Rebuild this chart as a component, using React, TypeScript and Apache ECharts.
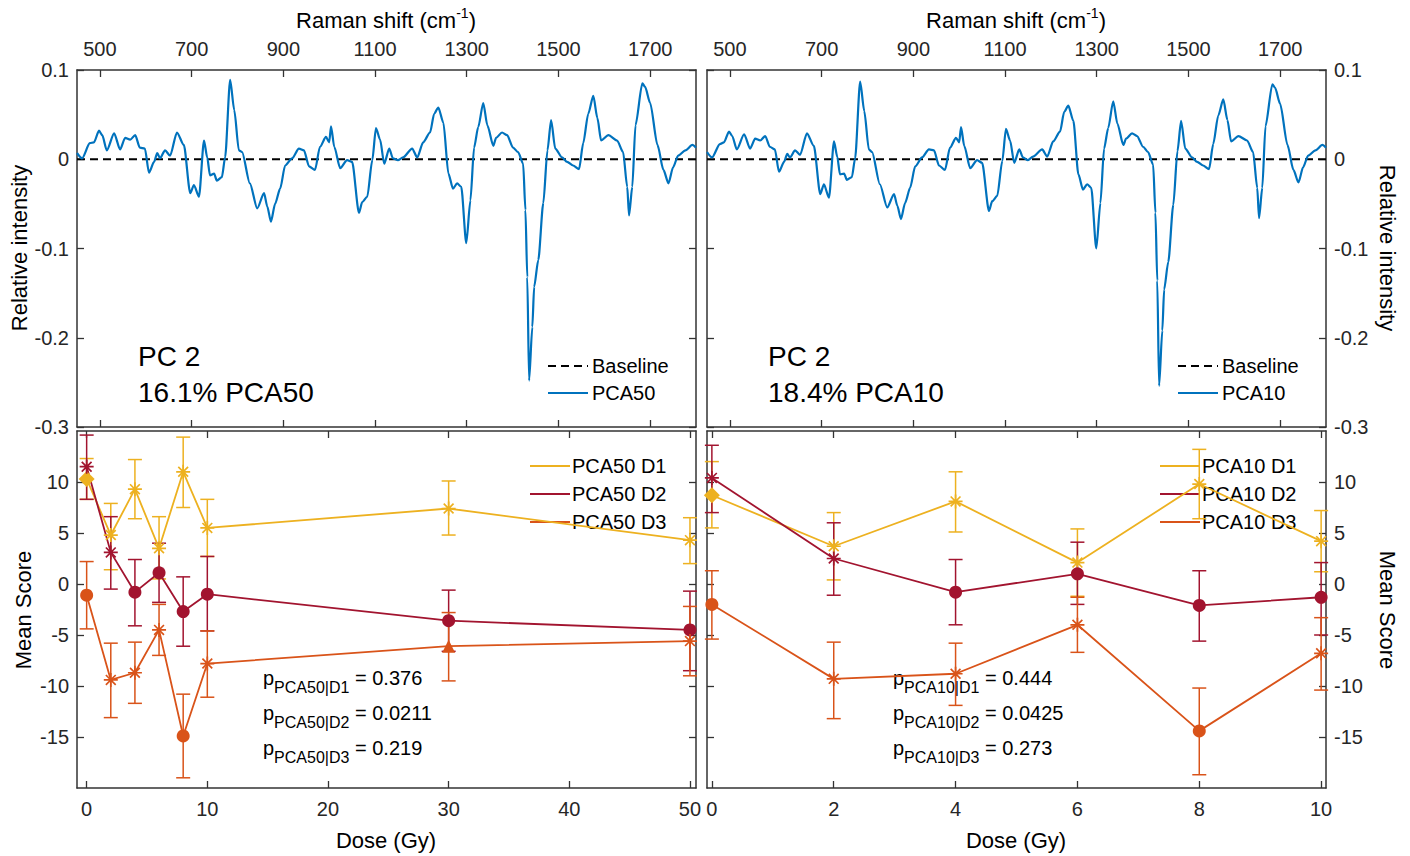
import React, { useEffect, useRef } from 'react';
import * as echarts from 'echarts';

const FONT = "'Liberation Sans', Arial, Helvetica, sans-serif";
const AX = '#333333';
const TXT = '#262626';
const BLUE = '#0072BD';
const C_D1 = '#EDB120';
const C_D2 = '#A2142F';
const C_D3 = '#D95319';

// ---------- tick labels ----------
const ramanTicks = [500, 700, 900, 1100, 1300, 1500, 1700];
const intensityTicks = [-0.3, -0.2, -0.1, 0, 0.1];
const doseTicks50 = [0, 10, 20, 30, 40, 50];
const doseTicks10 = [0, 2, 4, 6, 8, 10];
const scoreTicks = [-15, -10, -5, 0, 5, 10];

// ---------- spectra (PC 2 loadings) ----------
const waveNumbers = [
  450, 461, 478, 487, 498, 505, 515, 531, 544, 555, 566, 577, 587, 598, 607, 618, 625, 631, 642, 653,
  668, 683, 697, 705, 716, 727, 734, 740, 749, 755, 766, 773, 784, 793, 803, 810, 827, 843, 858, 865,
  873, 882, 893, 904, 919, 934, 945, 956, 969, 980, 993, 1000, 1004, 1011, 1024, 1039, 1050, 1065, 1072, 1083,
  1094, 1102, 1111, 1120, 1131, 1139, 1150, 1161, 1181, 1192, 1205, 1220, 1229, 1238, 1249, 1260, 1270, 1279, 1288, 1299,
  1308, 1316, 1325, 1336, 1345, 1358, 1364, 1377, 1388, 1401, 1412, 1423, 1428, 1432, 1436, 1443, 1447, 1456, 1467, 1476,
  1484, 1493, 1508, 1519, 1532, 1545, 1554, 1565, 1576, 1585, 1593, 1609, 1628, 1641, 1650, 1654, 1661, 1668, 1683, 1689,
  1700, 1716, 1729, 1740, 1750, 1761, 1777, 1792, 1800,
];
const intensityPCA50 = [
  0.007, 0.001, 0.018, 0.019, 0.032, 0.027, 0.010, 0.029, 0.011, 0.024, 0.022, 0.027, 0.013, 0.012, -0.015, -0.003, 0.007, 0.001, 0.010, 0.004,
  0.030, 0.016, -0.038, -0.029, -0.042, 0.021, 0.002, -0.018, -0.016, -0.024, -0.020, 0.002, 0.089, 0.055, 0.010, 0.008, -0.027, -0.055, -0.038, -0.053,
  -0.070, -0.050, -0.033, -0.007, 0.001, 0.012, 0.010, -0.008, -0.012, 0.014, 0.025, 0.019, 0.037, 0.014, -0.010, -0.001, -0.003, -0.060, -0.048, -0.042,
  -0.001, 0.035, 0.022, -0.005, 0.012, 0.001, -0.001, 0.002, 0.012, 0.002, 0.019, 0.030, 0.051, 0.058, 0.041, -0.016, -0.033, -0.027, -0.031, -0.094,
  -0.046, 0.013, 0.036, 0.063, 0.038, 0.015, 0.024, 0.030, 0.027, 0.013, 0.008, -0.005, -0.057, -0.132, -0.248, -0.188, -0.143, -0.113, -0.049, 0.010,
  0.044, 0.012, 0.002, -0.003, -0.007, -0.011, 0.018, 0.051, 0.071, 0.046, 0.021, 0.027, 0.021, 0.008, -0.031, -0.063, -0.031, 0.038, 0.085, 0.081,
  0.063, 0.016, -0.012, -0.027, -0.009, 0.004, 0.010, 0.016, 0.013,
];
const intensityPCA10 = [
  0.008, 0.002, 0.017, 0.019, 0.031, 0.026, 0.011, 0.028, 0.012, 0.023, 0.021, 0.026, 0.014, 0.011, -0.014, -0.003, 0.006, 0.002, 0.010, 0.005,
  0.029, 0.015, -0.039, -0.028, -0.043, 0.020, 0.003, -0.017, -0.016, -0.023, -0.020, 0.001, 0.087, 0.054, 0.011, 0.008, -0.028, -0.054, -0.039, -0.052,
  -0.067, -0.049, -0.032, -0.008, 0.002, 0.011, 0.010, -0.007, -0.012, 0.013, 0.024, 0.019, 0.036, 0.015, -0.010, -0.001, -0.004, -0.058, -0.047, -0.041,
  -0.002, 0.034, 0.021, -0.004, 0.011, 0.002, -0.001, 0.003, 0.011, 0.003, 0.020, 0.031, 0.053, 0.060, 0.043, -0.017, -0.034, -0.028, -0.032, -0.100,
  -0.049, 0.012, 0.035, 0.065, 0.040, 0.016, 0.023, 0.029, 0.026, 0.014, 0.008, -0.006, -0.060, -0.136, -0.254, -0.192, -0.146, -0.115, -0.051, 0.009,
  0.043, 0.012, 0.002, -0.003, -0.007, -0.011, 0.017, 0.049, 0.067, 0.044, 0.020, 0.026, 0.021, 0.008, -0.032, -0.066, -0.032, 0.037, 0.084, 0.080,
  0.062, 0.016, -0.012, -0.026, -0.009, 0.004, 0.010, 0.016, 0.013,
];
const baselineWave = [450, 1800];
const baselineIntensity = [0, 0];

// ---------- mean scores (PCA50) ----------
const dose50 = [0, 2, 4, 6, 8, 10, 30, 50];
const pca50D1 = [10.3, 4.8, 9.3, 3.5, 11.0, 5.5, 7.4, 4.3];
const pca50D1Lo = [8.3, 1.4, 6.4, 0.5, 7.5, 2.7, 4.8, 2.0];
const pca50D1Hi = [12.3, 7.9, 12.2, 6.6, 14.4, 8.3, 10.1, 6.5];
const pca50D1Mk = ['diamond', 'asterisk', 'asterisk', 'asterisk', 'asterisk', 'asterisk', 'asterisk', 'asterisk'];
const pca50D2 = [11.5, 3.1, -0.8, 1.1, -2.7, -1.0, -3.6, -4.5];
const pca50D2Lo = [8.3, -0.5, -4.1, -1.8, -6.1, -4.6, -6.6, -8.5];
const pca50D2Hi = [14.6, 6.6, 2.4, 4.0, 0.7, 2.7, -0.6, -0.7];
const pca50D2Mk = ['asterisk', 'asterisk', 'circle', 'circle', 'circle', 'circle', 'circle', 'circle'];
const pca50D3 = [-1.1, -9.4, -8.7, -4.5, -14.9, -7.8, -6.1, -5.6];
const pca50D3Lo = [-4.4, -13.1, -11.7, -7.0, -19.0, -11.1, -9.5, -9.0];
const pca50D3Hi = [2.2, -5.8, -5.7, -2.0, -10.8, -4.6, -2.8, -2.2];
const pca50D3Mk = ['circle', 'asterisk', 'asterisk', 'asterisk', 'circle', 'asterisk', 'triangle', 'asterisk'];

// ---------- mean scores (PCA10) ----------
const dose10 = [0, 2, 4, 6, 8, 10];
const pca10D1 = [8.7, 3.7, 8.1, 2.1, 9.8, 4.2];
const pca10D1Lo = [5.5, 0.4, 5.1, -1.2, 6.4, 1.2];
const pca10D1Hi = [12.0, 7.0, 11.0, 5.4, 13.2, 7.2];
const pca10D1Mk = ['diamond', 'asterisk', 'asterisk', 'asterisk', 'asterisk', 'asterisk'];
const pca10D2 = [10.4, 2.5, -0.8, 1.0, -2.1, -1.3];
const pca10D2Lo = [7.0, -1.1, -4.0, -2.0, -5.6, -5.0];
const pca10D2Hi = [13.6, 6.0, 2.4, 4.1, 1.3, 2.1];
const pca10D2Mk = ['asterisk', 'asterisk', 'circle', 'circle', 'circle', 'circle'];
const pca10D3 = [-2.0, -9.3, -8.8, -4.0, -14.4, -6.8];
const pca10D3Lo = [-5.4, -13.2, -11.9, -6.7, -18.7, -10.4];
const pca10D3Hi = [1.3, -5.7, -5.8, -1.3, -10.2, -3.3];
const pca10D3Mk = ['circle', 'asterisk', 'asterisk', 'asterisk', 'circle', 'asterisk'];

const pLabels50 = ['PCA50|D1', 'PCA50|D2', 'PCA50|D3'];
const pValues50 = ['0.376', '0.0211', '0.219'];
const pLabels10 = ['PCA10|D1', 'PCA10|D2', 'PCA10|D3'];
const pValues10 = ['0.444', '0.0425', '0.273'];

const ASTERISK =
  'path://M8.8,0L11.2,0L11.2,20L8.8,20Z M0,8.8L20,8.8L20,11.2L0,11.2Z ' +
  'M2.15,3.85L3.85,2.15L17.85,16.15L16.15,17.85Z M16.15,2.15L17.85,3.85L3.85,17.85L2.15,16.15Z';

function symbolOf(name: string): [string, number] {
  if (name === 'asterisk') return [ASTERISK, 14];
  if (name === 'diamond') return ['diamond', 16];
  if (name === 'triangle') return ['triangle', 13];
  return ['circle', 13];
}

const plain = (v: number) => String(v);

function xAxis(gridIndex: number, position: string, min: number, max: number, ticks: number[], labels: boolean) {
  return {
    type: 'value', gridIndex, position, min, max,
    axisLine: { show: true, onZero: false, lineStyle: { color: AX, width: 1.5 } },
    axisTick: { show: true, inside: true, length: 7, customValues: ticks, lineStyle: { color: AX, width: 1.3 } },
    axisLabel: { show: labels, customValues: ticks, formatter: plain, margin: 11, color: TXT, fontSize: 20, fontFamily: FONT },
    splitLine: { show: false },
  };
}
function yAxis(gridIndex: number, position: string, min: number, max: number, ticks: number[], labels: boolean) {
  return {
    type: 'value', gridIndex, position, min, max,
    axisLine: { show: true, onZero: false, lineStyle: { color: AX, width: 1.5 } },
    axisTick: { show: true, inside: true, length: 7, customValues: ticks, lineStyle: { color: AX, width: 1.3 } },
    axisLabel: { show: labels, customValues: ticks, formatter: plain, margin: 8, color: TXT, fontSize: 20, fontFamily: FONT },
    splitLine: { show: false },
  };
}

function spectrum(xi: number, values: number[], name: string) {
  return {
    name, type: 'line', xAxisIndex: xi, yAxisIndex: xi,
    data: waveNumbers.map((w, i) => [w, values[i]]),
    showSymbol: false, symbol: 'none', smooth: 0.25, smoothMonotone: 'x',
    lineStyle: { color: BLUE, width: 2.2 }, z: 3,
  };
}
function baseline(xi: number) {
  return {
    name: 'Baseline', type: 'line', xAxisIndex: xi, yAxisIndex: xi,
    data: baselineWave.map((w, i) => [w, baselineIntensity[i]]),
    symbol: 'none', lineStyle: { color: '#000', width: 2, type: [8, 5] }, z: 2,
  };
}
function errBars(xi: number, doses: number[], lo: number[], hi: number[], color: string) {
  return {
    type: 'custom', xAxisIndex: xi, yAxisIndex: xi, silent: true, z: 2,
    data: doses.map((d, i) => [d, lo[i], hi[i]]),
    encode: { x: 0, y: [1, 2] },
    renderItem: (_p: any, api: any) => {
      const x = api.value(0);
      const a = api.coord([x, api.value(1)]);
      const b = api.coord([x, api.value(2)]);
      const w = 7;
      const st = { stroke: color, lineWidth: 1.5 };
      return {
        type: 'group',
        children: [
          { type: 'line', shape: { x1: a[0], y1: a[1], x2: b[0], y2: b[1] }, style: st },
          { type: 'line', shape: { x1: a[0] - w, y1: a[1], x2: a[0] + w, y2: a[1] }, style: st },
          { type: 'line', shape: { x1: b[0] - w, y1: b[1], x2: b[0] + w, y2: b[1] }, style: st },
        ],
      };
    },
  };
}
function scoreLine(xi: number, doses: number[], vals: number[], marks: string[], color: string, name: string) {
  return {
    name, type: 'line', xAxisIndex: xi, yAxisIndex: xi, z: 3,
    data: doses.map((d, i) => {
      const [s, sz] = symbolOf(marks[i]);
      return { value: [d, vals[i]], symbol: s, symbolSize: sz };
    }),
    showSymbol: true,
    lineStyle: { color, width: 1.8 },
    itemStyle: { color },
  };
}

function txt(x: number, y: number, text: string, size: number) {
  return {
    type: 'text', x, y,
    style: { text, fontSize: size, fontFamily: FONT, fill: '#000', align: 'left', verticalAlign: 'middle' },
  };
}
function richTitle(x: number, y: number) {
  return {
    type: 'text', x, y,
    style: {
      text: '{a|Raman shift (cm}{s|-1}{a|)}',
      align: 'center', verticalAlign: 'middle',
      rich: {
        a: { fontSize: 22, lineHeight: 28, fontFamily: FONT, fill: '#000' },
        s: { fontSize: 14, lineHeight: 14, fontFamily: FONT, fill: '#000', verticalAlign: 'top' },
      },
    },
  };
}
function centered(x: number, y: number, text: string, rotation = 0) {
  return {
    type: 'text', x, y, rotation,
    style: { text, fontSize: 22, fontFamily: FONT, fill: '#000', align: 'center', verticalAlign: 'middle' },
  };
}
function pText(x: number, y: number, label: string, val: string) {
  return {
    type: 'text', x, y,
    style: {
      text: `{p|p}{s|${label}}{n| = ${val}}`,
      align: 'left', verticalAlign: 'middle',
      rich: {
        p: { fontSize: 20, lineHeight: 34, fontFamily: FONT, fill: '#000' },
        s: { fontSize: 16, lineHeight: 16, fontFamily: FONT, fill: '#000', verticalAlign: 'bottom' },
        n: { fontSize: 20, lineHeight: 34, fontFamily: FONT, fill: '#000' },
      },
    },
  };
}
function legLine(x: number, y: number, color: string, dash?: number[]) {
  return {
    type: 'line', shape: { x1: x, y1: y, x2: x + 40, y2: y },
    style: { stroke: color, lineWidth: 2, lineDash: dash || null },
  };
}

function buildOption() {
  const G = [
    { left: 77, top: 70, width: 619, height: 357 },
    { left: 707, top: 70, width: 619, height: 357 },
    { left: 77, top: 431, width: 619, height: 357 },
    { left: 707, top: 431, width: 619, height: 357 },
  ];
  const grids = G.map((g) => ({ ...g, containLabel: false, outerBoundsMode: 'none', show: false }));

  const xAxes = [
    xAxis(0, 'top', 450, 1800, ramanTicks, true),
    xAxis(1, 'top', 450, 1800, ramanTicks, true),
    xAxis(2, 'bottom', -0.8, 50.5, doseTicks50, true),
    xAxis(3, 'bottom', -0.08, 10.08, doseTicks10, true),
    xAxis(0, 'bottom', 450, 1800, ramanTicks, false),
    xAxis(1, 'bottom', 450, 1800, ramanTicks, false),
    xAxis(2, 'top', -0.8, 50.5, doseTicks50, false),
    xAxis(3, 'top', -0.08, 10.08, doseTicks10, false),
  ];
  const yAxes = [
    yAxis(0, 'left', -0.3, 0.1, intensityTicks, true),
    yAxis(1, 'right', -0.3, 0.1, intensityTicks, true),
    yAxis(2, 'left', -20, 15, scoreTicks, true),
    yAxis(3, 'right', -20, 15, scoreTicks, true),
    yAxis(0, 'right', -0.3, 0.1, intensityTicks, false),
    yAxis(1, 'left', -0.3, 0.1, intensityTicks, false),
    yAxis(2, 'right', -20, 15, scoreTicks, false),
    yAxis(3, 'left', -20, 15, scoreTicks, false),
  ];

  const series: any[] = [
    baseline(0), spectrum(0, intensityPCA50, 'PCA50'),
    baseline(1), spectrum(1, intensityPCA10, 'PCA10'),
    errBars(2, dose50, pca50D1Lo, pca50D1Hi, C_D1), scoreLine(2, dose50, pca50D1, pca50D1Mk, C_D1, 'PCA50 D1'),
    errBars(2, dose50, pca50D2Lo, pca50D2Hi, C_D2), scoreLine(2, dose50, pca50D2, pca50D2Mk, C_D2, 'PCA50 D2'),
    errBars(2, dose50, pca50D3Lo, pca50D3Hi, C_D3), scoreLine(2, dose50, pca50D3, pca50D3Mk, C_D3, 'PCA50 D3'),
    errBars(3, dose10, pca10D1Lo, pca10D1Hi, C_D1), scoreLine(3, dose10, pca10D1, pca10D1Mk, C_D1, 'PCA10 D1'),
    errBars(3, dose10, pca10D2Lo, pca10D2Hi, C_D2), scoreLine(3, dose10, pca10D2, pca10D2Mk, C_D2, 'PCA10 D2'),
    errBars(3, dose10, pca10D3Lo, pca10D3Hi, C_D3), scoreLine(3, dose10, pca10D3, pca10D3Mk, C_D3, 'PCA10 D3'),
  ];

  const graphic: any[] = [
    richTitle(386, 20), richTitle(1016, 20),
    centered(19, 248, 'Relative intensity', Math.PI / 2),
    centered(1387, 248, 'Relative intensity', -Math.PI / 2),
    centered(23, 610, 'Mean Score', Math.PI / 2),
    centered(1387, 610, 'Mean Score', -Math.PI / 2),
    centered(386, 840, 'Dose (Gy)'), centered(1016, 840, 'Dose (Gy)'),
    txt(138, 356, 'PC 2', 28), txt(138, 392, '16.1% PCA50', 28),
    txt(768, 356, 'PC 2', 28), txt(768, 392, '18.4% PCA10', 28),
    legLine(548, 366, '#000', [8, 5]), txt(592, 366, 'Baseline', 20),
    legLine(548, 393, BLUE), txt(592, 393, 'PCA50', 20),
    legLine(1178, 366, '#000', [8, 5]), txt(1222, 366, 'Baseline', 20),
    legLine(1178, 393, BLUE), txt(1222, 393, 'PCA10', 20),
    legLine(530, 466, C_D1), txt(572, 466, 'PCA50 D1', 20),
    legLine(530, 494, C_D2), txt(572, 494, 'PCA50 D2', 20),
    legLine(530, 522, C_D3), txt(572, 522, 'PCA50 D3', 20),
    legLine(1160, 466, C_D1), txt(1202, 466, 'PCA10 D1', 20),
    legLine(1160, 494, C_D2), txt(1202, 494, 'PCA10 D2', 20),
    legLine(1160, 522, C_D3), txt(1202, 522, 'PCA10 D3', 20),
    ...pLabels50.map((l, i) => pText(263, 678 + i * 35, l, pValues50[i])),
    ...pLabels10.map((l, i) => pText(893, 678 + i * 35, l, pValues10[i])),
  ];

  return {
    animation: false,
    backgroundColor: '#ffffff',
    textStyle: { fontFamily: FONT },
    grid: grids,
    xAxis: xAxes,
    yAxis: yAxes,
    series,
    graphic,
  };
}

export default function App() {
  const ref = useRef<HTMLDivElement>(null);
  useEffect(() => {
    if (!ref.current) return;
    const chart = echarts.init(ref.current, null, { renderer: 'svg' });
    chart.setOption(buildOption() as any);
    return () => chart.dispose();
  }, []);
  return (
    <div
      ref={ref}
      style={{ position: 'absolute', left: 0, top: 0, width: 1410, height: 856, background: '#fff' }}
    />
  );
}
